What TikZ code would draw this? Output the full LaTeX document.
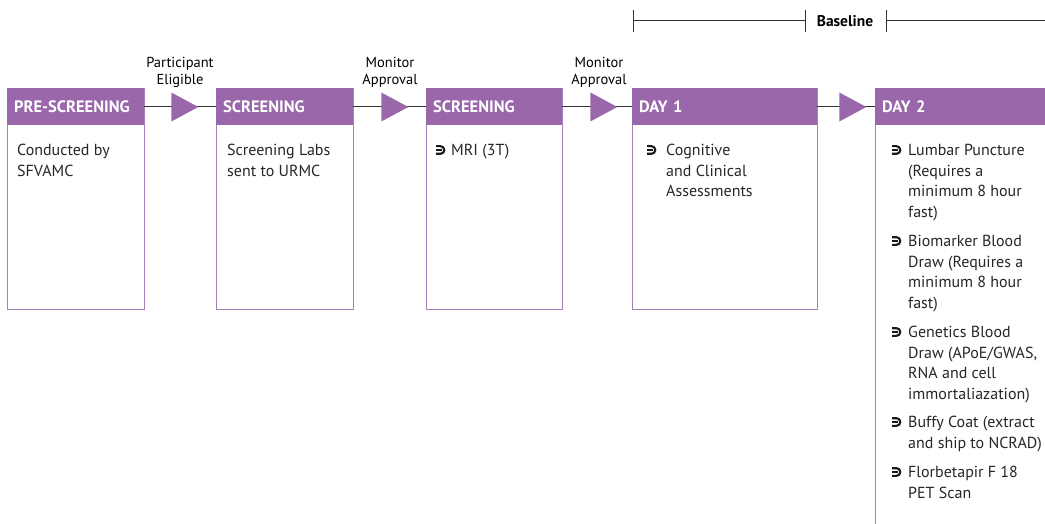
\documentclass[tikz,border=0pt]{standalone}
\usepackage{fontspec}
\setmainfont{PT Sans}
\usetikzlibrary{shapes.geometric,positioning,arrows.meta}
\definecolor{stagepurple}{HTML}{9A67AB}
\definecolor{stageline}{HTML}{A880BC}
\definecolor{linegray}{HTML}{333333}
\tikzset{x=1pt, y=-1pt,
    stagebody/.style={draw=stageline, line width=1.2pt, anchor=north west, inner sep=0pt},
    stagehead/.style={fill=stagepurple, anchor=north west, inner xsep=7pt, inner ysep=0pt,
        minimum height=37pt, align=left, text=white, font=\bfseries\fontsize{16.5}{18}\selectfont},
    bodytext/.style={anchor=north west, inner sep=0pt, align=left, text=black!85,
        font=\fontsize{16}{20.5}\selectfont},
    gatelabel/.style={align=center, inner sep=0pt, font=\fontsize{14.5}{17}\selectfont},
    gate/.style={isosceles triangle, isosceles triangle stretches, fill=stagepurple,
        inner sep=0pt, minimum width=29pt, minimum height=27pt},
    link/.style={draw=linegray, line width=1.2pt},
    hook/.pic={\draw[line width=2.1pt, black!90] (-4,-3.8) -- (0.5,-3.8) arc[start angle=-90, end angle=90, radius=3.8] -- (-4,3.8);
               \draw[line width=2.1pt, black!90] (-4.5,0) -- (1.5,0);},
    }

\begin{document}
\begin{tikzpicture}
\useasboundingbox (0,0) rectangle (1045,524);
\clip (0,0) rectangle (1045,524);

% stages
\foreach \n/\x/\w/\tw/\t in {pre/7/137/123/PRE-SCREENING, scra/216/137/123/SCREENING,
    scrb/426/136/122/SCREENING, dayone/632/185/171/DAY 1}{
  \node[stagebody, minimum width=\w pt, minimum height=221pt] (\n) at (\x,88) {};
  \node[stagehead, text width=\tw pt] (head\n) at (\x,88) {\t};
}
\node[stagebody, minimum width=220pt, minimum height=460pt] (daytwo) at (875,88) {};
\node[stagehead, text width=206pt] (headdaytwo) at (875,88) {DAY 2};

% links and gates
\draw[link] (headpre.east) -- (headscra.west);
\draw[link] (headscra.east) -- (headscrb.west);
\draw[link] (headscrb.east) -- (headdayone.west);
\draw[link] (headdayone.east) -- (headdaytwo.west);
\node[gate] (gatea) at (180,107) {};
\node[gate] (gateb) at (390,107) {};
\node[gate] (gatec) at (599,107) {};
\node[gate] (gated) at (848,107) {};
\node[gatelabel, above=9pt of gatea] {Participant\\Eligible};
\node[gatelabel, above=9pt of gateb] {Monitor\\Approval};
\node[gatelabel, above=9pt of gatec] {Monitor\\Approval};

% baseline bracket
\coordinate (blstart) at (633,21);
\coordinate (blmid) at (806,21);
\node[font=\bfseries\fontsize{15.5}{16}\selectfont, inner sep=0pt] (bltext) at (845,21) {Baseline};
\coordinate (blright) at (886,21);
\coordinate (blend) at (1050,21);
\draw[link, line width=1pt, {Bar[width=22pt]}-{Bar[width=22pt]}] (blstart) -- (blmid);
\draw[link, line width=1pt, {Bar[width=22pt]}-] (blright) -- (blend);

% box texts
\node[bodytext] (pretext) at (17,144) {Conducted by\\SFVAMC};
\node[bodytext] (scratext) at (227,144) {Screening Labs\\sent to URMC};
\node[bodytext] (scrbtext) at (451,144) {MRI (3T)};
\pic at (440,150) {hook};
\node[bodytext] (dayonetext) at (666,144) {Cognitive\\and Clinical\\Assessments};
\pic at (651,150) {hook};
\foreach \y/\t in {144/{Lumbar Puncture\\(Requires a\\minimum 8 hour\\fast)},
    235/{Biomarker Blood\\Draw (Requires a\\minimum 8 hour\\fast)},
    326/{Genetics Blood\\Draw (APoE/GWAS,\\RNA and cell\\immortaliazation)},
    416/{Buffy Coat (extract\\and ship to NCRAD)},
    466/{Florbetapir F 18\\PET Scan}}{
  \node[bodytext] (itemdaytwo\y) at (908,\y) {\t};
  \pic at (896,\y+6) {hook};
}
\end{tikzpicture}
\end{document}
